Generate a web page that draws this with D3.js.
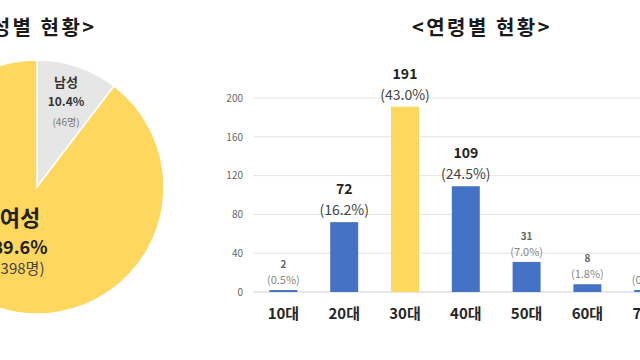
<!DOCTYPE html>
<html><head><meta charset="utf-8">
<script src="https://cdn.jsdelivr.net/npm/d3@7"></script>
<style>body{margin:0;background:#fff}svg{display:block;font-family:"Noto Sans CJK KR","Noto Sans",sans-serif}</style>
</head><body><svg id="c" width="640" height="360"></svg>
<script>
// gender pie data
const genderLabels = ["남성", "여성"];
const genderCounts = [46, 398];
const genderPcts = ["10.4%", "89.6%"];
// age bar data
const ageCategories = ["10대", "20대", "30대", "40대", "50대", "60대", "70대"];
const ageCounts = [2, 72, 191, 109, 31, 8, 2];
const agePcts = ["(0.5%)", "(16.2%)", "(43.0%)", "(24.5%)", "(7.0%)", "(1.8%)", "(0.5%)"];
const yTicks = [0, 40, 80, 120, 160, 200];

const svg = d3.select("#c");
const YELLOW = "#FED75E", BLUE = "#4472C4", GRAY = "#E7E6E6";

// ---- titles
svg.append("text").attr("x", 37).attr("y", 35).attr("text-anchor", "middle")
  .attr("font-size", 20).attr("font-weight", 700).attr("letter-spacing", 2.5).attr("fill", "#1a1a1a").text("<성별 현황>");
svg.append("text").attr("x", 482).attr("y", 35).attr("text-anchor", "middle")
  .attr("font-size", 20).attr("font-weight", 700).attr("letter-spacing", 2.5).attr("fill", "#1a1a1a").text("<연령별 현황>");

// ---- pie
const cx = 37, cy = 187, r = 127;
const pie = d3.pie().sort(null).value(d => d);
const arcs = pie(genderCounts);
const arc = d3.arc().innerRadius(0).outerRadius(r);
const pg = svg.append("g").attr("transform", `translate(${cx},${cy})`);
pg.selectAll("path").data(arcs).join("path")
  .attr("d", arc).attr("fill", (d, i) => i === 0 ? GRAY : YELLOW)
  .attr("stroke", "#fff").attr("stroke-width", 1.5);

// male labels
const mg = svg.append("g").attr("text-anchor", "middle");
mg.append("text").attr("x", 66).attr("y", 87).attr("font-size", 13).attr("font-weight", 700).attr("fill", "#333").text(genderLabels[0]);
mg.append("text").attr("x", 66).attr("y", 106).attr("font-size", 12).attr("font-weight", 700).attr("fill", "#333").text(genderPcts[0]);
mg.append("text").attr("x", 66).attr("y", 126).attr("font-size", 10).attr("fill", "#777").text(`(${genderCounts[0]}명)`);
// female labels
const fg = svg.append("g").attr("text-anchor", "middle");
fg.append("text").attr("x", 20).attr("y", 226).attr("font-size", 22).attr("font-weight", 700).attr("fill", "#222").text(genderLabels[1]);
fg.append("text").attr("x", 20).attr("y", 254).attr("font-size", 18).attr("font-weight", 700).attr("fill", "#222").text(genderPcts[1]);
fg.append("text").attr("x", 20).attr("y", 274).attr("font-size", 15).attr("fill", "#444").text(`(${genderCounts[1]}명)`);

// ---- bar chart
const x = d3.scaleBand().domain(ageCategories).range([253, 253 + 60.8 * ageCategories.length])
  .paddingInner(0.54).paddingOuter(0.27);
const y = d3.scaleLinear().domain([0, 200]).range([292, 98]);

const grid = svg.append("g");
grid.selectAll("line").data(yTicks).join("line")
  .attr("x1", 253).attr("x2", 700).attr("y1", d => y(d)).attr("y2", d => y(d))
  .attr("stroke", d => d === 0 ? "#D0D0D0" : "#E4E4E4").attr("stroke-width", 1);

const yAxis = svg.append("g").attr("transform", "translate(243,0)")
  .call(d3.axisLeft(y).tickValues(yTicks).tickSize(0).tickPadding(0));
yAxis.select(".domain").remove();
yAxis.selectAll("text").attr("font-size", 10).attr("fill", "#666").attr("font-family", "'Noto Sans CJK KR'");

const xAxis = svg.append("g").attr("transform", "translate(0,292)")
  .call(d3.axisBottom(x).tickSize(0).tickPadding(16));
xAxis.select(".domain").remove();
xAxis.selectAll("text").attr("font-size", 15).attr("font-weight", 700).attr("fill", "#262626").attr("font-family", "'Noto Sans CJK KR'");

const data = ageCategories.map((c, i) => ({c, v: ageCounts[i], p: agePcts[i]}));
svg.append("g").selectAll("rect").data(data).join("rect")
  .attr("x", d => x(d.c)).attr("width", x.bandwidth())
  .attr("y", d => y(d.v)).attr("height", d => y(0) - y(d.v))
  .attr("fill", d => d.v === d3.max(ageCounts) ? YELLOW : BLUE);

const big = d => d.v >= 50;
const lg = svg.append("g").attr("text-anchor", "middle");
lg.selectAll("text.v").data(data).join("text").attr("class", "v")
  .attr("x", d => x(d.c) + x.bandwidth() / 2)
  .attr("y", d => y(d.v) - (big(d) ? 28 : 22))
  .attr("font-size", d => big(d) ? 14 : 10).attr("font-weight", 700)
  .attr("fill", d => big(d) ? "#222" : "#666").text(d => d.v);
lg.selectAll("text.p").data(data).join("text").attr("class", "p")
  .attr("x", d => x(d.c) + x.bandwidth() / 2)
  .attr("y", d => y(d.v) - (big(d) ? 7 : 6))
  .attr("font-size", d => big(d) ? 14 : 11)
  .attr("fill", d => big(d) ? "#444" : "#888").text(d => d.p);
</script></body></html>
